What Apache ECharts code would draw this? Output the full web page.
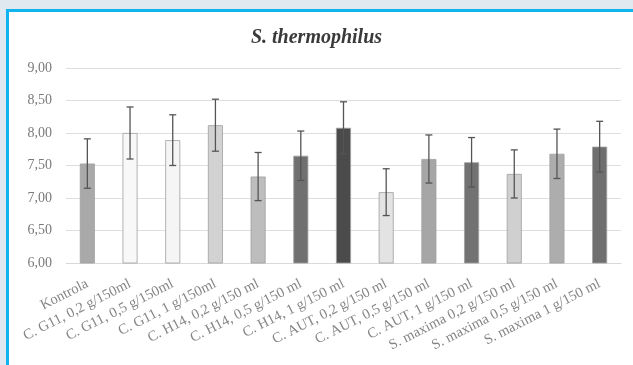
<!DOCTYPE html>
<html>
<head>
<meta charset="utf-8">
<script src="https://cdn.jsdelivr.net/npm/echarts@6/dist/echarts.min.js"></script>
<style>
html, body { margin: 0; padding: 0; background: #dfe9ef; }
#frame { position: absolute; left: 6px; top: 9px; width: 640px; height: 370px;
  background: #fff; border-left: 3px solid #0fb3ee; border-top: 3px solid #0fb3ee; }
#chart { position: absolute; left: 0; top: 0; width: 633px; height: 365px; }
</style>
</head>
<body>
<div id="frame"></div>
<div id="chart"></div>
<script>
var categories = ['Kontrola', 'C. G11, 0,2 g/150ml', 'C. G11, 0,5 g/150ml', 'C. G11, 1 g/150ml',
  'C. H14, 0,2 g/150 ml', 'C. H14, 0,5 g/150 ml', 'C. H14, 1 g/150 ml',
  'C. AUT, 0,2 g/150 ml', 'C. AUT, 0,5 g/150 ml', 'C. AUT, 1 g/150 ml',
  'S. maxima 0,2 g/150 ml', 'S. maxima 0,5 g/150 ml', 'S. maxima 1 g/150 ml'];
var values = [7.53, 8.00, 7.89, 8.12, 7.33, 7.65, 8.08, 7.09, 7.60, 7.55, 7.37, 7.68, 7.79];
var errors = [0.38, 0.40, 0.39, 0.40, 0.37, 0.38, 0.40, 0.36, 0.37, 0.38, 0.37, 0.38, 0.39];
var barColors = ['#a9a9a9', '#f8f8f8', '#f5f5f5', '#d2d2d2', '#bdbdbd', '#707070', '#4b4b4b',
  '#e3e3e3', '#a6a6a6', '#727272', '#d0d0d0', '#adadad', '#6f6f6f'];

var myChart = echarts.init(document.getElementById('chart'));
var option = {
  animation: false,
  title: {
    text: 'S. thermophilus',
    left: 'center',
    top: 23,
    textStyle: { fontFamily: 'Liberation Serif', fontStyle: 'italic', fontWeight: 'bold', fontSize: 20, color: '#3a3a3a' }
  },
  grid: { left: 66, right: 12, top: 68, bottom: 102 },
  xAxis: {
    type: 'category',
    data: categories,
    axisLine: { lineStyle: { color: '#d9d9d9' } },
    axisTick: { show: false },
    axisLabel: { rotate: 27, interval: 0, margin: 20, fontFamily: 'Liberation Serif', fontSize: 14.5, color: '#858585' }
  },
  yAxis: {
    type: 'value',
    min: 6,
    max: 9,
    interval: 0.5,
    axisLine: { show: false },
    axisTick: { show: false },
    splitLine: { lineStyle: { color: '#dedede' } },
    axisLabel: {
      margin: 14, fontFamily: 'Liberation Serif', fontSize: 14, color: '#7a7a7a',
      formatter: function (v) { return v.toFixed(2).replace('.', ','); }
    }
  },
  series: [
    {
      type: 'bar',
      barWidth: 15,
      data: values.map(function (v, i) {
        return { value: v, itemStyle: { color: barColors[i], borderColor: '#a0a0a0', borderWidth: 0.8 } };
      })
    },
    {
      type: 'custom',
      data: values.map(function (v, i) { return [i, v - errors[i], v + errors[i]]; }),
      renderItem: function (params, api) {
        var lo = api.coord([api.value(0), api.value(1)]);
        var hi = api.coord([api.value(0), api.value(2)]);
        var x = lo[0], w = 3.5;
        var st = { stroke: '#555', lineWidth: 1.3 };
        return {
          type: 'group',
          children: [
            { type: 'line', shape: { x1: x, y1: lo[1], x2: x, y2: hi[1] }, style: st },
            { type: 'line', shape: { x1: x - w, y1: lo[1], x2: x + w, y2: lo[1] }, style: st },
            { type: 'line', shape: { x1: x - w, y1: hi[1], x2: x + w, y2: hi[1] }, style: st }
          ]
        };
      },
      z: 5
    }
  ]
};
myChart.setOption(option);
</script>
</body>
</html>
